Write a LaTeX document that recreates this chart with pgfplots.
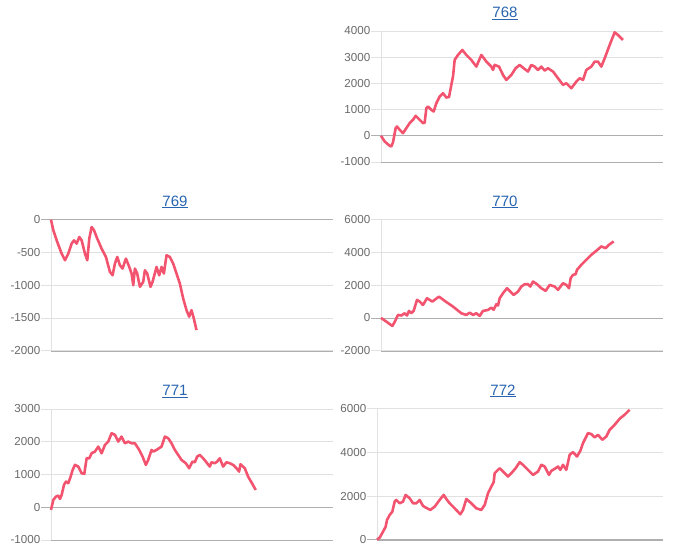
\documentclass[border=0pt]{standalone}
\usepackage{pgfplots}
\pgfplotsset{compat=1.18}
\usepackage{fontspec}
\setmainfont{Liberation Sans}
\definecolor{linec}{RGB}{242,84,112}
\definecolor{titlec}{RGB}{40,100,175}
\definecolor{gridc}{RGB}{225,225,225}
\definecolor{basec}{RGB}{175,175,175}
\definecolor{tickc}{RGB}{105,105,105}
\pgfplotsset{
  panel/.style={
    scale only axis, width=282pt, height=131pt,
    anchor=south west,
    axis x line=bottom, axis y line=left,
    x axis line style={draw=basec,-},
    y axis line style={draw=gridc,-},
    xtick=\empty,
    ymajorgrids, grid style={gridc, line width=0.8pt},
    major tick length=10pt, tick align=outside,
    ytick style={draw=gridc, line width=0.8pt},
    extra y ticks={0}, extra y tick labels={},
    extra y tick style={grid style={basec, line width=0.8pt}, ytick style={draw=basec}},
    yticklabel style={font=\fontsize{11.6}{13}\selectfont, text=tickc, inner sep=0.5pt},
    /pgf/number format/1000 sep={},
    /pgf/number format/assume math mode=true,
    title style={font=\fontsize{15}{17}\selectfont, text=titlec, at={(0.5,1)}, anchor=south, yshift=2pt, xshift=-17pt},
    clip=false,
  },
  ln/.style={linec, line width=2.6pt, line join=round, no marks},
}
\begin{document}
\begin{tikzpicture}
\useasboundingbox (0pt,0pt) rectangle (675pt,558pt);
% 768
\begin{axis}[panel, at={(381pt,396pt)}, xmin=124, xmax=970, ymin=-1000, ymax=4000, ytick={-1000,0,...,4000}, title={\underline{768}}]
\addplot[ln] coordinates {
(124,0)(135,-216)(150,-381)(155,-406)(160,-250)(168,292)(172,356)(180,229)(190,100)(200,292)(210,483)(220,610)(228,762)(240,610)(250,483)(255,500)(260,1054)(265,1117)(275,990)(282,927)(290,1244)(300,1498)(310,1625)(320,1460)(328,1480)(335,1943)(340,2260)(345,2895)(355,3086)(368,3276)(380,3086)(395,2895)(410,2641)(425,3086)(440,2832)(455,2641)(460,2514)(465,2705)(478,2641)(490,2324)(500,2133)(515,2324)(528,2578)(540,2705)(552,2578)(565,2451)(575,2705)(585,2641)(595,2514)(605,2641)(615,2489)(625,2578)(640,2451)(655,2197)(670,1943)(680,2006)(695,1816)(710,2070)(720,2197)(730,2133)(740,2514)(755,2641)(765,2832)(775,2832)(785,2641)(795,2959)(810,3467)(825,3949)(835,3848)(850,3657)
};
\end{axis}
% 769
\begin{axis}[panel, at={(51pt,207.3pt)}, xmin=153, xmax=1000, ymin=-2000, ymax=0, ytick={-2000,-1500,...,0}, title={\underline{769}}]
\addplot[ln] coordinates {
(153,0)(160,-162)(170,-315)(185,-518)(195,-619)(205,-518)(215,-365)(222,-315)(230,-365)(238,-264)(245,-315)(255,-518)(262,-619)(268,-289)(275,-112)(282,-160)(292,-289)(305,-442)(318,-569)(330,-797)(338,-848)(345,-670)(352,-569)(360,-695)(368,-746)(378,-594)(388,-721)(395,-822)(400,-1000)(405,-746)(412,-822)(420,-1025)(430,-949)(435,-772)(442,-822)(452,-1025)(458,-949)(470,-721)(478,-848)(485,-721)(492,-822)(500,-543)(510,-569)(520,-670)(530,-822)(540,-975)(550,-1203)(560,-1381)(568,-1482)(575,-1381)(582,-1508)(590,-1685)
};
\end{axis}
% 770
\begin{axis}[panel, at={(381pt,207.3pt)}, xmin=124, xmax=970, ymin=-2000, ymax=6000, ytick={-2000,0,...,6000}, title={\underline{770}}]
\addplot[ln] coordinates {
(124,0)(140,-224)(158,-490)(165,-250)(175,184)(185,150)(195,286)(202,150)(208,429)(215,300)(222,429)(232,1102)(240,1000)(250,796)(262,1204)(278,1000)(298,1306)(318,1000)(340,694)(365,286)(380,184)(390,327)(400,184)(410,286)(420,122)(430,429)(445,490)(455,633)(462,500)(470,837)(475,760)(480,1204)(490,1510)(502,1816)(512,1612)(522,1408)(535,1612)(545,1918)(555,2061)(565,2061)(572,1918)(580,2224)(592,2061)(605,1816)(618,1653)(630,2020)(645,1918)(655,1714)(670,2122)(680,2020)(688,1816)(693,2429)(700,2633)(708,2673)(712,2939)(725,3245)(740,3551)(755,3857)(770,4102)(785,4367)(798,4265)(808,4469)(822,4673)
};
\end{axis}
% 771
\begin{axis}[panel, at={(51pt,18pt)}, xmin=153, xmax=1000, ymin=-1000, ymax=3000, ytick={-1000,0,...,3000}, title={\underline{771}}]
\addplot[ln] coordinates {
(153,-81)(160,224)(168,326)(175,356)(180,254)(185,377)(192,682)(198,784)(205,733)(212,936)(218,1140)(225,1293)(235,1242)(245,1038)(253,1018)(260,1496)(268,1496)(275,1649)(285,1700)(295,1852)(305,1649)(315,1903)(325,2005)(335,2260)(345,2209)(355,2005)(365,2158)(375,1954)(385,2005)(395,1954)(405,1954)(418,1751)(428,1547)(438,1293)(445,1445)(455,1751)(460,1700)(470,1751)(485,1852)(495,2158)(505,2107)(515,1954)(525,1751)(535,1598)(545,1445)(558,1344)(568,1191)(578,1394)(585,1374)(592,1547)(600,1598)(610,1496)(622,1344)(630,1242)(635,1374)(645,1344)(652,1394)(660,1496)(670,1242)(680,1374)(690,1344)(700,1293)(710,1191)(718,1089)(722,1313)(735,1191)(745,936)(755,763)(768,529)
};
\end{axis}
% 772
\begin{axis}[panel, width=286pt, at={(377pt,18.3pt)}, xmin=112, xmax=970, ymin=0, ymax=6000, ytick={0,2000,...,6000}, title={\underline{772}}]
\addplot[ln] coordinates {
(112,0)(120,92)(130,367)(138,597)(142,903)(150,1133)(158,1286)(165,1745)(170,1822)(180,1668)(190,1745)(198,2051)(210,1898)(220,1668)(230,1668)(240,1822)(250,1546)(262,1439)(272,1362)(285,1515)(300,1822)(312,2051)(320,1867)(330,1668)(345,1439)(362,1163)(370,1362)(380,1867)(395,1668)(410,1439)(425,1362)(435,1592)(445,2128)(455,2434)(462,2633)(465,3046)(470,3123)(480,3276)(490,3123)(505,2893)(515,3046)(528,3276)(540,3551)(550,3429)(565,3199)(580,2970)(595,3123)(605,3429)(615,3352)(628,2970)(635,3153)(648,3276)(655,3352)(662,3199)(670,3429)(680,3199)(690,3888)(700,4010)(712,3811)(722,4071)(730,4423)(745,4883)(755,4837)(765,4684)(775,4806)(788,4576)(800,4729)(810,5036)(825,5265)(840,5541)(855,5725)(870,5954)
};
\end{axis}
\end{tikzpicture}
\end{document}
